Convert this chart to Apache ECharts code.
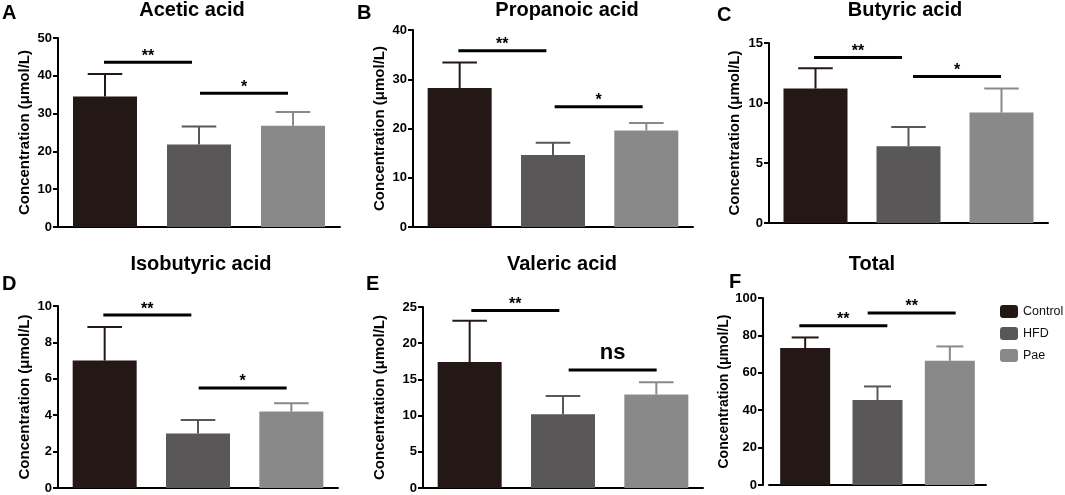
<!DOCTYPE html>
<html lang="en">
<head>
<meta charset="UTF-8">
<title>SCFA concentration</title>
<script src="https://cdn.jsdelivr.net/npm/echarts@6/dist/echarts.min.js"></script>
<style>
  html, body { margin: 0; padding: 0; background: #fff; }
  #main { width: 1065px; height: 495px; }
</style>
</head>
<body>
<div id="main"></div>
<script type="text/javascript">
// groups
var groups = ['Control', 'HFD', 'Pae'];

// mean and upper SD per panel
var aceticMean = [34.5, 21.8, 26.8];
var aceticSD = [6.0, 4.8, 3.6];
var propanoicMean = [28.2, 14.6, 19.6];
var propanoicSD = [5.2, 2.5, 1.5];
var butyricMean = [11.2, 6.4, 9.2];
var butyricSD = [1.7, 1.6, 2.0];
var isobutyricMean = [7.0, 3.0, 4.2];
var isobutyricSD = [1.85, 0.73, 0.45];
var valericMean = [17.4, 10.2, 12.9];
var valericSD = [5.7, 2.5, 1.7];
var totalMean = [73.2, 45.5, 66.4];
var totalSD = [5.7, 7.2, 7.7];

// significance brackets: [from, to, level, mark]
var aceticSig = [[0, 1, 43.6, '**'], [1, 2, 35.4, '*']];
var propanoicSig = [[0, 1, 35.8, '**'], [1, 2, 24.4, '*']];
var butyricSig = [[0, 1, 13.8, '**'], [1, 2, 12.2, '*']];
var isobutyricSig = [[0, 1, 9.5, '**'], [1, 2, 5.5, '*']];
var valericSig = [[0, 1, 24.5, '**'], [1, 2, 16.3, 'ns']];
var totalSig = [[0, 1, 85.2, '**'], [1, 2, 92, '**']];

// y axis ranges [max, interval]
var aceticAxis = [50, 10];
var propanoicAxis = [40, 10];
var butyricAxis = [15, 5];
var isobutyricAxis = [10, 2];
var valericAxis = [25, 5];
var totalAxis = [100, 20];

var colors = ['#231815', '#595757', '#898989'];
var font = "'Liberation Sans', Arial, sans-serif";

var panels = [
  { letter: 'A', title: 'Acetic acid', mean: aceticMean, sd: aceticSD, sig: aceticSig, axis: aceticAxis,
    grid: { left: 58, top: 38, width: 282, height: 189 }, titleX: 192, titleY: 0, letterX: 2, letterY: 3,
    barW: 64, nameGap: 26, nameSize: 15, axisOffset: 0, shift: [-4, -2] },
  { letter: 'B', title: 'Propanoic acid', mean: propanoicMean, sd: propanoicSD, sig: propanoicSig, axis: propanoicAxis,
    grid: { left: 413, top: 30, width: 280, height: 197 }, titleX: 567, titleY: 0, letterX: 357, letterY: 3,
    barW: 64, nameGap: 26, nameSize: 15, axisOffset: 0, shift: [-4, -1] },
  { letter: 'C', title: 'Butyric acid', mean: butyricMean, sd: butyricSD, sig: butyricSig, axis: butyricAxis,
    grid: { left: 769, top: 43, width: 279, height: 180 }, titleX: 905, titleY: 0, letterX: 717, letterY: 5,
    barW: 64, nameGap: 27, nameSize: 15, axisOffset: 0, shift: [-4, 2] },
  { letter: 'D', title: 'Isobutyric acid', mean: isobutyricMean, sd: isobutyricSD, sig: isobutyricSig, axis: isobutyricAxis,
    grid: { left: 58, top: 306, width: 280, height: 182 }, titleX: 201, titleY: 254, letterX: 2, letterY: 274,
    barW: 64, nameGap: 26, nameSize: 15, axisOffset: 0, shift: [-4, -2] },
  { letter: 'E', title: 'Valeric acid', mean: valericMean, sd: valericSD, sig: valericSig, axis: valericAxis,
    grid: { left: 423, top: 307, width: 280, height: 181 }, titleX: 562, titleY: 254, letterX: 366, letterY: 274,
    barW: 64, nameGap: 36, nameSize: 15, axisOffset: 0, shift: [-1, 3] },
  { letter: 'F', title: 'Total', mean: totalMean, sd: totalSD, sig: totalSig, axis: totalAxis,
    grid: { left: 769, top: 298, width: 217, height: 187 }, titleX: 872, titleY: 254, letterX: 729, letterY: 272,
    barW: 50, nameGap: 24, nameSize: 14, axisOffset: 6, shift: [2, -2] }
];

var option = {
  backgroundColor: '#fff',
  animation: false,
  title: [],
  grid: [],
  xAxis: [],
  yAxis: [],
  series: [],
  legend: {
    orient: 'vertical',
    left: 1000,
    top: 305,
    padding: 0,
    itemWidth: 18,
    itemHeight: 13,
    itemGap: 9,
    icon: 'roundRect',
    data: groups,
    textStyle: { fontFamily: font, fontSize: 12.5, color: '#111' }
  }
};

panels.forEach(function (p, k) {
  option.title.push({
    text: p.title, left: p.titleX, top: p.titleY, textAlign: 'center', padding: 0,
    textStyle: { fontFamily: font, fontSize: 20, fontWeight: 'bold', color: '#000' }
  });
  option.title.push({
    text: p.letter, left: p.letterX, top: p.letterY, padding: 0,
    textStyle: { fontFamily: font, fontSize: 20, fontWeight: 'bold', color: '#000' }
  });
  option.grid.push(p.grid);
  option.xAxis.push({
    type: 'category', gridIndex: k, data: groups,
    axisLine: { lineStyle: { color: '#000', width: 2 } },
    axisTick: { show: false }, axisLabel: { show: false }
  });
  option.yAxis.push({
    type: 'value', gridIndex: k, min: 0, max: p.axis[0], interval: p.axis[1],
    offset: p.axisOffset,
    name: 'Concentration (μmol/L)', nameLocation: 'middle', nameGap: p.nameGap,
    nameTextStyle: { fontFamily: font, fontSize: p.nameSize, fontWeight: 'bold', color: '#000' },
    axisLine: { show: true, lineStyle: { color: '#000', width: 2 } },
    axisTick: { show: true, length: 5, lineStyle: { color: '#000', width: 2 } },
    axisLabel: { margin: 6, fontFamily: font, fontSize: 13, fontWeight: 'bold', color: '#000' },
    splitLine: { show: false }
  });

  // one series per group so the legend has entries; overlapping slots
  groups.forEach(function (g, i) {
    option.series.push({
      name: g, type: 'bar', xAxisIndex: k, yAxisIndex: k,
      barWidth: p.barW, barGap: '-100%',
      itemStyle: { color: colors[i] },
      data: p.mean.map(function (v, j) { return j === i ? v : '-'; }),
      z: 2
    });
  });

  // error bars (upper only)
  option.series.push({
    type: 'custom', xAxisIndex: k, yAxisIndex: k, z: 3,
    data: p.mean.map(function (v, j) { return [j, v, p.sd[j]]; }),
    encode: { x: 0, y: 1 },
    renderItem: function (params, api) {
      var x = api.value(0), m = api.value(1), s = api.value(2);
      var b = api.coord([x, m]);
      var t = api.coord([x, m + s]);
      var half = p.barW * 0.27;
      var st = { stroke: colors[params.dataIndex], lineWidth: 2 };
      return {
        type: 'group',
        children: [
          { type: 'line', shape: { x1: b[0], y1: b[1], x2: t[0], y2: t[1] }, style: st },
          { type: 'line', shape: { x1: t[0] - half, y1: t[1], x2: t[0] + half, y2: t[1] }, style: st }
        ]
      };
    }
  });

  // significance lines
  option.series.push({
    type: 'custom', xAxisIndex: k, yAxisIndex: k, z: 4,
    data: p.sig.map(function (s) { return [s[0], s[1], s[2]]; }),
    encode: { x: [0, 1], y: 2 },
    renderItem: function (params, api) {
      var s = p.sig[params.dataIndex];
      var p0 = api.coord([s[0], s[2]]);
      var p1 = api.coord([s[1], s[2]]);
      var mid = (p0[0] + p1[0]) / 2 + p.shift[params.dataIndex];
      var y = p0[1];
      var ns = s[3] === 'ns';
      return {
        type: 'group',
        children: [
          { type: 'line', shape: { x1: mid - 44, y1: y, x2: mid + 44, y2: y },
            style: { stroke: '#000', lineWidth: 3 } },
          { type: 'text', x: mid, y: y - (ns ? 17 : 6),
            style: { text: s[3], align: 'center', verticalAlign: 'middle',
                     font: 'bold ' + (ns ? 22 : 16) + 'px ' + font, fill: '#000' } }
        ]
      };
    }
  });
});

var myChart = echarts.init(document.getElementById('main'));
myChart.setOption(option);
</script>
</body>
</html>
